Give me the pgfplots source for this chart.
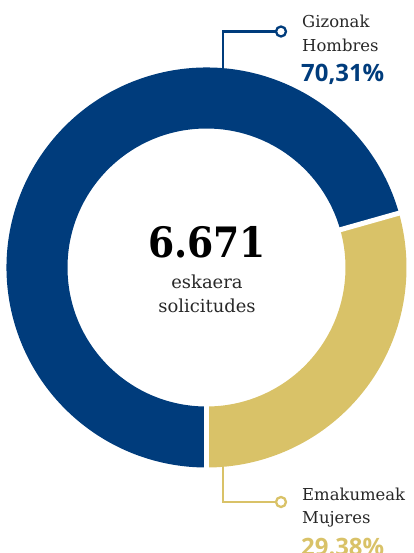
\documentclass[border=0pt]{standalone}
\usepackage{pgfplots}
\pgfplotsset{compat=1.18}
\usepackage{fontspec}
\setmainfont{DejaVu Serif}
\newfontfamily\pctfont{Open Sans}
\newfontfamily\bigfont{DejaVu Serif Condensed}
\definecolor{dblue}{RGB}{0,60,124}
\definecolor{gold}{RGB}{217,194,104}
\definecolor{txt}{RGB}{40,40,40}
% data (percent)
\def\valHombres{70.31}
\def\valMujeres{29.38}
\begin{document}
\begin{tikzpicture}
\pgfmathsetmacro{\angsplit}{-90+360*\valMujeres/100}
\begin{axis}[
  at={(0,0)}, anchor=south west,
  scale only axis, width=414bp, height=553bp,
  xmin=0, xmax=414, ymin=0, ymax=553, y dir=reverse,
  hide axis, clip=false]
\path (axis cs:206.5,267.5) coordinate (C);
% gold segment (Mujeres)
\fill[gold] ([shift={(-90:200bp)}]C) arc[start angle=-90, end angle=\angsplit, radius=200bp]
  -- ([shift={(\angsplit:139bp)}]C) arc[start angle=\angsplit, end angle=-90, radius=139bp] -- cycle;
% blue segment (Hombres)
\fill[dblue] ([shift={(\angsplit:200bp)}]C) arc[start angle=\angsplit, end angle=270, radius=200bp]
  -- ([shift={(270:139bp)}]C) arc[start angle=270, end angle=\angsplit, radius=139bp] -- cycle;
% separators
\draw[white, line width=5bp] ([shift={(-90:130bp)}]C) -- ([shift={(-90:210bp)}]C);
\draw[white, line width=5bp] ([shift={(\angsplit:130bp)}]C) -- ([shift={(\angsplit:210bp)}]C);
% callouts
\draw[dblue, line width=2.3bp] (axis cs:222.7,90) -- (axis cs:222.7,31.5) -- (axis cs:276,31.5);
\draw[dblue, line width=2.3bp, fill=white] (axis cs:281,31.5) circle[radius=5bp];
\draw[gold, line width=2.3bp] (axis cs:222.7,450) -- (axis cs:222.7,502) -- (axis cs:276,502);
\draw[gold, line width=2.3bp, fill=white] (axis cs:281,502) circle[radius=5bp];
% labels
\node[anchor=base west, inner sep=0, text=txt, font=\fontsize{16.5}{19}\selectfont] at (axis cs:302,28) {Gizonak};
\node[anchor=base west, inner sep=0, text=txt, font=\fontsize{16.5}{19}\selectfont] at (axis cs:302,52) {Hombres};
\node[anchor=base west, inner sep=0, text=dblue, font=\pctfont\bfseries\fontsize{24}{28}\selectfont] at (axis cs:301,82) {70,31\%};
\node[anchor=base west, inner sep=0, text=txt, font=\fontsize{16.5}{19}\selectfont] at (axis cs:302,500) {Emakumeak};
\node[anchor=base west, inner sep=0, text=txt, font=\fontsize{16.5}{19}\selectfont] at (axis cs:302,523) {Mujeres};
\node[anchor=base west, inner sep=0, text=gold, font=\pctfont\bfseries\fontsize{24}{28}\selectfont] at (axis cs:301,555) {29.38\%};
% centre
\node[anchor=base, inner sep=0, text=black, font=\bigfont\bfseries\fontsize{42}{46}\selectfont] at (axis cs:207,257) {6.671};
\node[anchor=base, inner sep=0, text=txt, font=\fontsize{18}{21}\selectfont] at (axis cs:207,288) {eskaera};
\node[anchor=base, inner sep=0, text=txt, font=\fontsize{18}{21}\selectfont] at (axis cs:207,312) {solicitudes};
\end{axis}
\pgfresetboundingbox
\path (0,0) rectangle (414bp,553bp);
\end{tikzpicture}
\end{document}
